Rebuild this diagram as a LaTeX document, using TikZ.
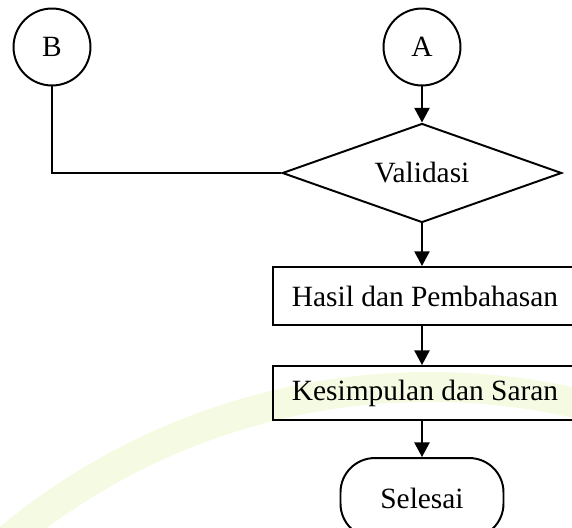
\documentclass[tikz,border=0pt]{standalone}
\usepackage{fontspec}
\setmainfont{Liberation Serif}
\usetikzlibrary{shapes.geometric,arrows.meta}
\definecolor{ringgreen}{RGB}{245,250,226}

\begin{document}
\begin{tikzpicture}[x=0.408pt, y=-0.408pt, line width=0.8pt,
		font=\fontsize{12}{14}\selectfont,
		conn/.style={draw, circle, minimum size=31.4pt, inner sep=0pt},
		dec/.style={draw, diamond, aspect=2.8, minimum width=114pt, minimum height=40.4pt, inner sep=0pt},
		proc/.style={draw, rectangle, minimum width=124pt, minimum height=23.7pt, inner sep=0pt},
		term/.style={draw, rectangle, rounded corners=14pt, minimum width=66.5pt, minimum height=32.6pt},
		arr/.style={-{Triangle[length=6pt, width=6.2pt]}}]
		\useasboundingbox (0,0) rectangle (572,528);
		\draw[ringgreen, line width=12.2pt] (430,1047) circle (269.3pt);
		\node[conn] (b) at (52,47) {B};
		\node[conn] (a) at (422,47) {A};
		\node[dec] (val) at (422,173) {Validasi};
		\node[proc] (hasil) at (425,296) {Hasil dan Pembahasan};
		\node[proc, minimum height=22pt] (simpul) at (425,393) {Kesimpulan dan Saran};
		\node[term] (selesai) at (422,498) {Selesai};
		\draw[arr] (a) -- (val);
		\draw (b) |- (val.west);
		\draw[arr] (val) -- (val |- hasil.north);
		\draw[arr] (hasil.south -| val) -- (val |- simpul.north);
		\draw[arr] (simpul.south -| val) -- (selesai);
	\end{tikzpicture}
\end{document}
